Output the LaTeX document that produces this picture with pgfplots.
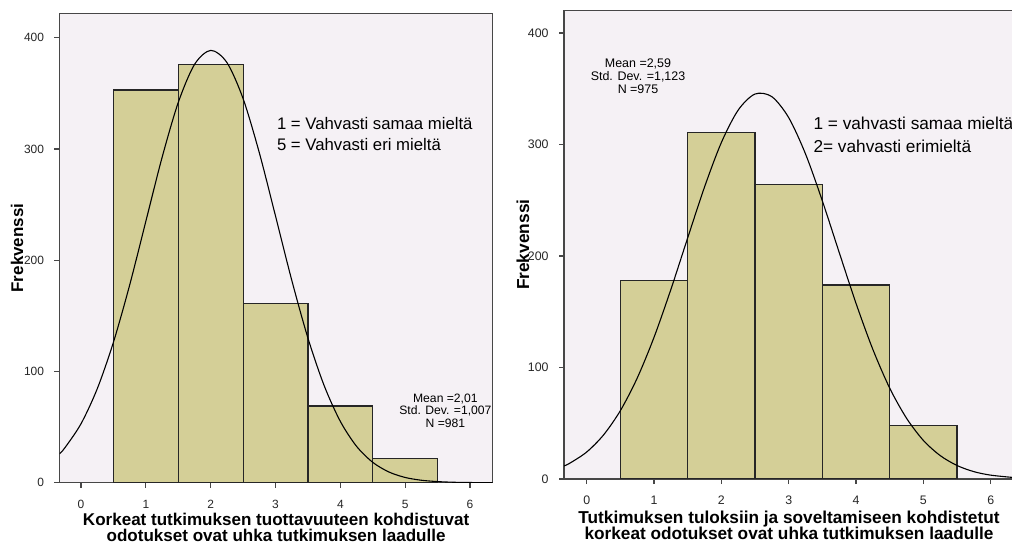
\documentclass[border=0pt]{standalone}
\usepackage{fontspec}
\setmainfont{Liberation Sans}
\usepackage{pgfplots}
\pgfplotsset{compat=1.18}
\definecolor{bgc}{HTML}{F5F1F5}
\definecolor{barc}{HTML}{D4CF97}
\definecolor{framec}{HTML}{474747}
\pgfplotsset{spss/.style={
  scale only axis,
  axis background/.style={fill=bgc},
  axis line style={framec, line width=1.3bp},
  tick style={framec, line width=1.2bp},
  major tick length=5bp,
  tick align=outside,
  tick pos=left,
  xtick={0,1,2,3,4,5,6},
  ytick={0,100,200,300,400},
  ymin=0,
  /pgf/number format/assume math mode=true,
  xticklabel style={inner sep=0pt, anchor=north, yshift=-12bp},
  yticklabel style={inner sep=0pt, anchor=east, xshift=-10.3bp},
  xlabel style={at={(axis description cs:0.5,0)}, anchor=north, inner sep=0pt, align=center},
  ylabel style={anchor=center, inner sep=0pt},
  ylabel={Frekvenssi},
}}
\begin{document}
\begin{tikzpicture}
\useasboundingbox (0,0) rectangle (1012bp,544bp);
% Left chart
\begin{axis}[spss,
  at={(59.5bp,61.3bp)}, anchor=south west,
  width=433.2bp, height=469.2bp,
  xmin=-0.332, xmax=6.35, ymax=421.75,
  ticklabel style={font=\fontsize{12}{14}\selectfont, text=black!85},
  ylabel style={at={(axis description cs:-0.0981,0.5)}, font=\fontsize{17}{18}\selectfont\bfseries},
  xlabel style={yshift=-30.5bp, font=\fontsize{17.1}{15.6}\selectfont\bfseries},
  xlabel={Korkeat tutkimuksen tuottavuuteen kohdistuvat\\odotukset ovat uhka tutkimuksen laadulle},
]
\addplot[ybar interval, fill=barc, draw=black!85, line width=1.2bp] coordinates {
(0.5,353) (1.5,376) (2.5,161) (3.5,69) (4.5,22) (5.5,22)};
\addplot[smooth, black, line width=1.1bp] coordinates {
(-0.332,26.0)(-0.25,31.3)(0,53.0)(0.25,84.4)(0.5,126.3)(0.75,177.6)(1,235.0)(1.25,292.3)(1.5,341.8)(1.75,375.9)(2,388.6)(2.25,377.7)(2.5,345.2)(2.75,296.6)(3,239.7)(3.25,182.1)(3.5,130.0)(3.75,87.3)(4,55.1)(4.25,32.7)(4.5,18.3)(4.75,9.6)(5,4.7)(5.25,2.2)(5.5,1.0)(5.75,0.4)(6,0.15)(6.35,0.04)};
\node[anchor=west, align=left, inner sep=0pt, font=\fontsize{16.8}{22}\selectfont] at (axis cs:3.02,313.4) {1 = Vahvasti samaa mieltä\\5 = Vahvasti eri mieltä};
\node[align=center, inner sep=0pt, font=\fontsize{12.2}{12.5}\selectfont] at (axis cs:5.62,64.9) {Mean =2,01\\Std. Dev. =1,007\\N =981};
\end{axis}
% Right chart
\begin{axis}[spss,
  at={(564bp,65bp)}, anchor=south west,
  width=450bp, height=468.6bp,
  xmin=-0.337, xmax=6.346, ymax=420.3,
  ticklabel style={font=\fontsize{12.4}{14}\selectfont, text=black!85},
  ylabel style={at={(axis description cs:-0.0915,0.5)}, font=\fontsize{17.4}{18}\selectfont\bfseries},
  xlabel style={yshift=-31.5bp, font=\fontsize{17.3}{16.4}\selectfont\bfseries},
  xlabel={Tutkimuksen tuloksiin ja soveltamiseen kohdistetut\\korkeat odotukset ovat uhka tutkimuksen laadulle},
]
\addplot[ybar interval, fill=barc, draw=black!85, line width=1.2bp] coordinates {
(0.5,178) (1.5,311) (2.5,264) (3.5,174) (4.5,48) (5.5,48)};
\addplot[smooth, black, line width=1.1bp] coordinates {
(-0.337,11.7)(-0.25,14.2)(0,24.2)(0.25,39.5)(0.5,61.3)(0.75,90.5)(1,127.1)(1.25,170.0)(1.5,216.3)(1.75,261.9)(2,301.8)(2.25,330.9)(2.5,345.3)(2.75,342.9)(3,324.1)(3.25,291.5)(3.5,249.4)(3.75,203.2)(4,157.5)(4.25,116.2)(4.5,81.5)(4.75,54.5)(5,34.6)(5.25,21.0)(5.5,12.1)(5.75,6.6)(6,3.45)(6.346,1.3)};
\node[anchor=west, align=left, inner sep=0pt, font=\fontsize{17.3}{23}\selectfont] at (axis cs:3.366,308.7) {1 = vahvasti samaa mieltä\\2= vahvasti erimieltä};
\node[align=center, inner sep=0pt, font=\fontsize{12.5}{12.8}\selectfont] at (axis cs:0.762,361.3) {Mean =2,59\\Std. Dev. =1,123\\N =975};
\end{axis}
\end{tikzpicture}
\end{document}
